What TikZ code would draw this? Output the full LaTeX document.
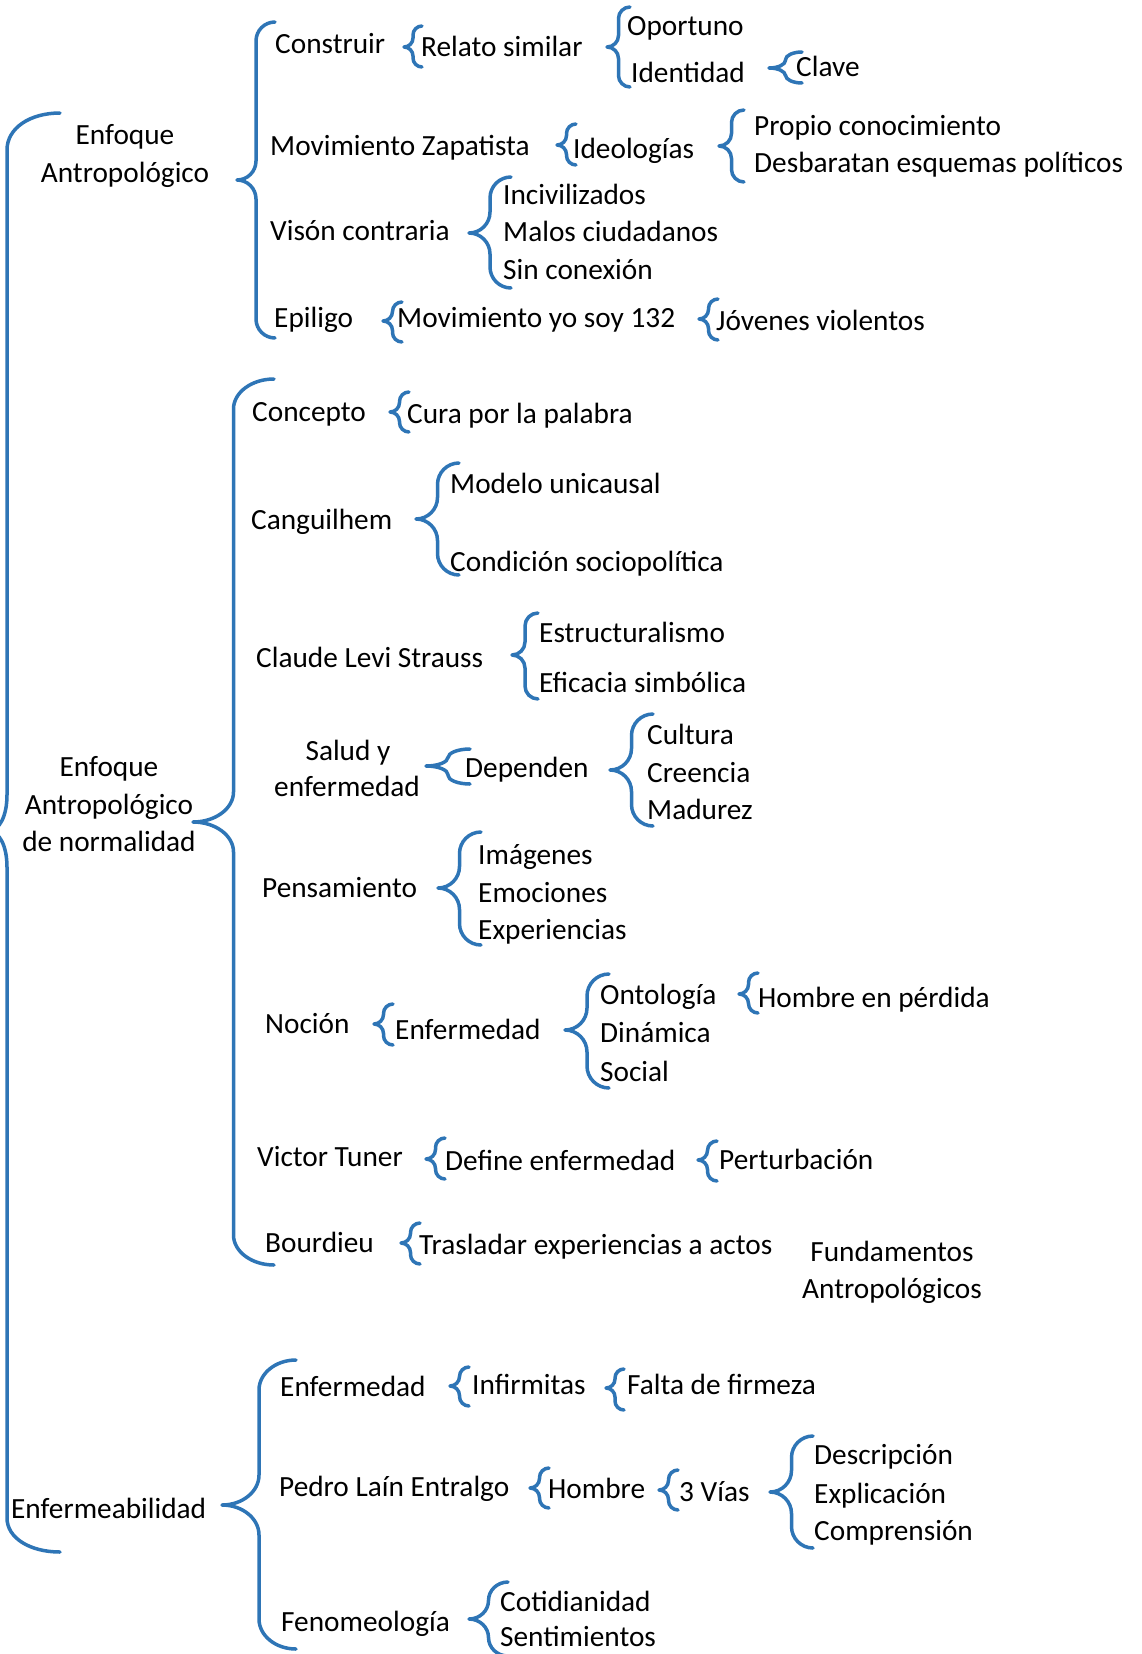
\documentclass[tikz,border=0pt]{standalone}
\usepackage{fontspec}
\setmainfont{Carlito}
\definecolor{braceblue}{RGB}{46,117,182}
\tikzset{
  brace/.style={draw=braceblue, line width=3.5pt, line cap=round, line join=round},
  t/.style={anchor=west, inner sep=0pt, text height=20pt, text depth=6pt, yshift=-1pt},
  tc/.style={anchor=center, inner sep=0pt, text height=20pt, text depth=6pt, yshift=-1pt},
  every node/.style={font=\fontsize{29.3}{37}\selectfont}
}
% tipx tipy endx top bottom
\newcommand{\Brace}[5]{%
  \pgfmathsetmacro{\bsx}{(#1+#3)/2}%
  \pgfmathsetmacro{\bhw}{(#3-#1)/2}%
  \pgfmathsetmacro{\br}{min(\bhw,(#5-#4)/4,30)}%
  \draw[brace] (#3,#4) .. controls ({\bsx+0.448*\bhw},#4) and (\bsx,{#4+0.448*\br}) .. (\bsx,{#4+\br})
    -- (\bsx,{#2-\br}) .. controls (\bsx,{#2-0.448*\br}) and ({#1+0.552*\bhw},#2) .. (#1,#2)
    .. controls ({#1+0.552*\bhw},#2) and (\bsx,{#2+0.448*\br}) .. (\bsx,{#2+\br})
    -- (\bsx,{#5-\br}) .. controls (\bsx,{#5-0.448*\br}) and ({\bsx+0.448*\bhw},#5) .. (#3,#5);%
}
\begin{document}
\begin{tikzpicture}[x=1pt,y=-1pt]
\useasboundingbox (0,0) rectangle (1142,1654);
\fill[white] (0,0) rectangle (1142,1654);
\begin{scope}
\clip (0,0) rectangle (1142,1654);
% ---------- outer brace (spine near the left edge) ----------
\draw[brace] (60,113) .. controls (30,113) and (7,128) .. (7,150)
  -- (7,795) .. controls (7,815) and (0,831) .. (-12,831)
  .. controls (0,831) and (7,847) .. (7,867)
  -- (7,1518) .. controls (7,1538) and (30,1552) .. (60,1552);
% section 1
\Brace{237}{180}{275}{22}{338}
\Brace{404}{47}{422}{26}{67}
\Brace{607}{47}{630}{7}{87}
\Brace{769}{68}{802}{52}{83}
\Brace{557}{145}{576}{124}{165}
\Brace{719}{146}{744}{110}{182}
\Brace{469}{233}{511}{177}{288}
\Brace{383}{321}{402}{302}{342}
\Brace{699}{319}{718}{299}{340}
% section 2
\Brace{193}{822}{274}{379}{1265}
\Brace{390}{412}{409}{392}{432}
\Brace{416}{519}{459}{463}{575}
\Brace{512}{655}{538}{613}{699}
\Brace{426}{766}{470}{749}{784}
\Brace{610}{770}{653}{714}{826}
\Brace{438}{888}{481}{832}{945}
\Brace{374}{1024}{393}{1004}{1045}
\Brace{565}{1030}{609}{974}{1088}
\Brace{739}{994}{758}{973}{1013}
\Brace{426}{1159}{445}{1138}{1179}
\Brace{698}{1160}{717}{1141}{1181}
\Brace{401}{1243}{420}{1223}{1264}
% section 3
\Brace{222}{1505}{296}{1360}{1649}
\Brace{450}{1386}{469}{1367}{1406}
\Brace{606}{1388}{624}{1369}{1410}
\Brace{530}{1488}{549}{1468}{1508}
\Brace{659}{1490}{678}{1470}{1510}
\Brace{770}{1492}{813}{1436}{1548}
\Brace{469}{1619}{508}{1582}{1656}
\end{scope}
% ---------- section 1 texts ----------
\node[tc] (ea1) at (125,136) {Enfoque};
\node[tc] (ea2) at (125,174) {Antropológico};
\node[t] (construir) at (275,45) {Construir};
\node[t] (relato) at (421,49) {Relato similar};
\node[t] (oportuno) at (627,28) {Oportuno};
\node[t] (identidad) at (631,74) {Identidad};
\node[t] (clave) at (796,69) {Clave};
\node[t] (movzap) at (270,147) {Movimiento Zapatista};
\node[t] (ideol) at (573,150) {Ideologías};
\node[t] (propio) at (754,127) {Propio conocimiento};
\node[t] (desbar) at (754,164) {Desbaratan esquemas políticos};
\node[t] (vison) at (270,232) {Visón contraria};
\node[t] (inciv) at (503,196) {Incivilizados};
\node[t] (malos) at (503,233) {Malos ciudadanos};
\node[t] (sincon) at (503,271) {Sin conexión};
\node[t] (epiligo) at (274,319) {Epiligo};
\node[t] (movyo) at (397,319) {Movimiento yo soy 132};
\node[t] (jovenes) at (716,322) {Jóvenes violentos};
% ---------- section 2 texts ----------
\node[tc] (ean1) at (109,768) {Enfoque};
\node[tc] (ean2) at (109,806) {Antropológico};
\node[tc] (ean3) at (109,843) {de normalidad};
\node[t] (concepto) at (252,413) {Concepto};
\node[t] (cura) at (407,415) {Cura por la palabra};
\node[t] (cangui) at (251,521) {Canguilhem};
\node[t] (modelo) at (450,485) {Modelo unicausal};
\node[t] (condicion) at (450,563) {Condición sociopolítica};
\node[t] (claude) at (256,659) {Claude Levi Strauss};
\node[t] (estruct) at (539,634) {Estructuralismo};
\node[t] (eficacia) at (539,684) {Eficacia simbólica};
\node[tc] (salud1) at (348,752) {Salud y};
\node[tc] (salud2) at (347,788) {enfermedad};
\node[t] (dependen) at (465,769) {Dependen};
\node[t] (cultura) at (647,736) {Cultura};
\node[t] (creencia) at (647,774) {Creencia};
\node[t] (madurez) at (647,811) {Madurez};
\node[t] (pensam) at (262,889) {Pensamiento};
\node[t] (imagenes) at (478,856) {Imágenes};
\node[t] (emociones) at (478,894) {Emociones};
\node[t] (experien) at (478,931) {Experiencias};
\node[t] (nocion) at (265,1025) {Noción};
\node[t] (enferm1) at (395,1031) {Enfermedad};
\node[t] (ontologia) at (600,996) {Ontología};
\node[t] (dinamica) at (600,1034) {Dinámica};
\node[t] (social) at (600,1073) {Social};
\node[t] (hombrep) at (758,999) {Hombre en pérdida};
\node[t] (victor) at (257,1158) {Victor Tuner};
\node[t] (define) at (445,1162) {Define enfermedad};
\node[t] (perturb) at (719,1161) {Perturbación};
\node[t] (bourdieu) at (265,1244) {Bourdieu};
\node[t] (traslad) at (419,1246) {Trasladar experiencias a actos};
\node[tc] (fund1) at (892,1253) {Fundamentos};
\node[tc] (fund2) at (892,1290) {Antropológicos};
% ---------- section 3 texts ----------
\node[t] (enfermeab) at (11,1510) {Enfermeabilidad};
\node[t] (enferm2) at (280,1388) {Enfermedad};
\node[t] (infirm) at (472,1386) {Infirmitas};
\node[t] (falta) at (627,1386) {Falta de firmeza};
\node[t] (pedro) at (279,1488) {Pedro Laín Entralgo};
\node[t] (hombre) at (548,1490) {Hombre};
\node[t] (vias) at (679,1493) {3 Vías};
\node[t] (descrip) at (814,1456) {Descripción};
\node[t] (explic) at (814,1495) {Explicación};
\node[t] (compren) at (814,1532) {Comprensión};
\node[t] (fenom) at (281,1623) {Fenomeología};
\node[t] (cotid) at (500,1603) {Cotidianidad};
\node[t] (sentim) at (500,1638) {Sentimientos};
\end{tikzpicture}
\end{document}
